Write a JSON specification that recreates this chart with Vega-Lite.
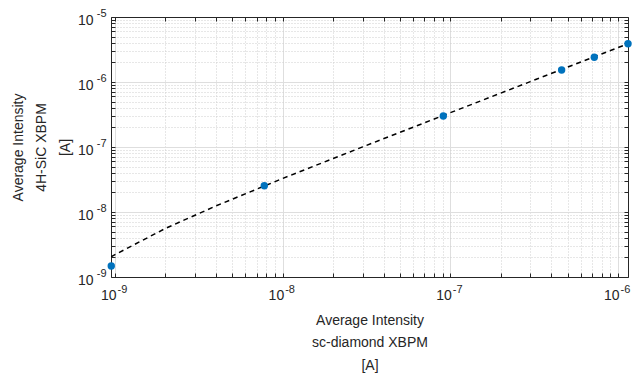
{
  "$schema": "https://vega.github.io/schema/vega-lite/v6.json",
  "autosize": "none",
  "width": 517,
  "height": 260,
  "padding": {"left": 111, "top": 17, "right": 7, "bottom": 99},
  "background": "white",
  "config": {
    "font": "Liberation Sans",
    "view": {"stroke": null},
    "axis": {
      "domainColor": "#262626",
      "domainWidth": 1,
      "tickColor": "#262626",
      "tickWidth": 1,
      "labelColor": "#262626",
      "labelFont": "Liberation Sans",
      "labelFontSize": 14,
      "titleFont": "Liberation Sans",
      "titleFontSize": 14,
      "titleFontWeight": "normal",
      "titleColor": "#262626",
      "labelOverlap": false,
      "labelFlush": false,
      "labelBound": false
    }
  },
  "datasets": {
    "measured": [
      {"sc_diamond": 9.5e-10, "sic": 1.48e-9},
      {"sc_diamond": 7.77e-9, "sic": 2.54e-8},
      {"sc_diamond": 9.08e-8, "sic": 3.0e-7},
      {"sc_diamond": 4.61e-7, "sic": 1.53e-6},
      {"sc_diamond": 7.22e-7, "sic": 2.4e-6},
      {"sc_diamond": 1.147e-6, "sic": 3.88e-6}
    ],
    "fit": [
      {"sc_diamond": 9.465e-10, "sic": 2.05e-9},
      {"sc_diamond": 2e-9, "sic": 5.6e-9},
      {"sc_diamond": 4e-9, "sic": 1.24e-8},
      {"sc_diamond": 1e-8, "sic": 3.28e-8},
      {"sc_diamond": 3e-8, "sic": 1.005e-7},
      {"sc_diamond": 1e-7, "sic": 3.37e-7},
      {"sc_diamond": 3e-7, "sic": 1.014e-6},
      {"sc_diamond": 1.147e-6, "sic": 3.88e-6}
    ]
  },
  "layer": [
    {
      "data": {"name": "fit"},
      "mark": {"type": "line", "color": "black", "strokeWidth": 1.5, "strokeDash": [5, 4], "clip": true},
      "encoding": {
        "x": {
          "field": "sc_diamond", "type": "quantitative",
          "scale": {"type": "log", "domain": [9.465e-10, 1.147e-6], "nice": false},
          "axis": {
            "orient": "bottom",
            "values": [1e-9,2e-9,3e-9,4e-9,5e-9,6e-9,7e-9,8e-9,9e-9,1e-8,2e-8,3e-8,4e-8,5e-8,6e-8,7e-8,8e-8,9e-8,1e-7,2e-7,3e-7,4e-7,5e-7,6e-7,7e-7,8e-7,9e-7,1e-6],
            "labelExpr": "abs(log(datum.value)/LN10 - round(log(datum.value)/LN10)) < 0.01 ? '10' : ''",
            "labelAlign": "right",
            "labelOffset": 1,
            "labelBaseline": "top",
            "tickSize": -4,
            "labelPadding": 15,
            "grid": true,
            "gridColor": {"condition": {"test": "abs(log(datum.value)/LN10 - round(log(datum.value)/LN10)) < 0.01", "value": "#dedede"}, "value": "#cfcfcf"},
            "gridDash": {"condition": {"test": "abs(log(datum.value)/LN10 - round(log(datum.value)/LN10)) < 0.01", "value": []}, "value": [1, 2]},
            "title": ["Average Intensity", "sc-diamond XBPM", "[A]"],
            "titleBaseline": "top",
            "titleAlign": "center",
            "titleX": 258.5,
            "titleY": 36,
            "titleLineHeight": 22.5
          }
        },
        "y": {
          "field": "sic", "type": "quantitative",
          "scale": {"type": "log", "domain": [1e-9, 1e-5], "nice": false},
          "axis": {
            "orient": "left",
            "values": [1e-9,2e-9,3e-9,4e-9,5e-9,6e-9,7e-9,8e-9,9e-9,1e-8,2e-8,3e-8,4e-8,5e-8,6e-8,7e-8,8e-8,9e-8,1e-7,2e-7,3e-7,4e-7,5e-7,6e-7,7e-7,8e-7,9e-7,1e-6,2e-6,3e-6,4e-6,5e-6,6e-6,7e-6,8e-6,9e-6,1e-5],
            "labelExpr": "abs(log(datum.value)/LN10 - round(log(datum.value)/LN10)) < 0.01 ? '10' : ''",
            "labelAlign": "right",
            "labelBaseline": "middle",
            "labelOffset": 3,
            "tickSize": -4,
            "labelPadding": 22,
            "grid": true,
            "gridColor": {"condition": {"test": "abs(log(datum.value)/LN10 - round(log(datum.value)/LN10)) < 0.01", "value": "#dedede"}, "value": "#cfcfcf"},
            "gridDash": {"condition": {"test": "abs(log(datum.value)/LN10 - round(log(datum.value)/LN10)) < 0.01", "value": []}, "value": [1, 2]},
            "title": null
          }
        }
      }
    },
    {
      "data": {"name": "measured"},
      "mark": {"type": "point", "shape": "circle", "filled": true, "color": "#0072BD", "opacity": 1, "size": 55, "clip": false},
      "encoding": {
        "x": {
          "field": "sc_diamond", "type": "quantitative",
          "scale": {"type": "log", "domain": [9.465e-10, 1.147e-6], "nice": false},
          "axis": {
            "orient": "top",
            "values": [1e-9,2e-9,3e-9,4e-9,5e-9,6e-9,7e-9,8e-9,9e-9,1e-8,2e-8,3e-8,4e-8,5e-8,6e-8,7e-8,8e-8,9e-8,1e-7,2e-7,3e-7,4e-7,5e-7,6e-7,7e-7,8e-7,9e-7,1e-6],
            "labels": false,
            "grid": false,
            "tickSize": -4,
            "title": null
          }
        },
        "y": {
          "field": "sic", "type": "quantitative",
          "scale": {"type": "log", "domain": [1e-9, 1e-5], "nice": false},
          "axis": {
            "orient": "right",
            "values": [1e-9,2e-9,3e-9,4e-9,5e-9,6e-9,7e-9,8e-9,9e-9,1e-8,2e-8,3e-8,4e-8,5e-8,6e-8,7e-8,8e-8,9e-8,1e-7,2e-7,3e-7,4e-7,5e-7,6e-7,7e-7,8e-7,9e-7,1e-6,2e-6,3e-6,4e-6,5e-6,6e-6,7e-6,8e-6,9e-6,1e-5],
            "labels": false,
            "grid": false,
            "tickSize": -4,
            "title": null
          }
        }
      }
    },
    {
      "data": {"name": "measured"},
      "mark": {"type": "point", "opacity": 0},
      "encoding": {
        "x": {
          "field": "sc_diamond", "type": "quantitative",
          "scale": {"type": "log", "domain": [9.465e-10, 1.147e-6], "nice": false},
          "axis": {
            "orient": "bottom",
            "values": [1e-9, 1e-8, 1e-7, 1e-6],
            "labelExpr": "'-' + toString(-round(log(datum.value)/LN10))",
            "labelAlign": "left",
            "labelBaseline": "top",
            "labelOffset": 2,
            "labelPadding": 6,
            "labelFontSize": 11,
            "ticks": false,
            "domain": false,
            "grid": false,
            "title": null
          }
        },
        "y": {
          "field": "sic", "type": "quantitative",
          "scale": {"type": "log", "domain": [1e-9, 1e-5], "nice": false},
          "axis": {
            "orient": "left",
            "values": [1e-9, 1e-8, 1e-7, 1e-6, 1e-5],
            "labelExpr": "'-' + toString(-round(log(datum.value)/LN10))",
            "labelAlign": "right",
            "labelBaseline": "middle",
            "labelOffset": -4,
            "labelPadding": 5,
            "labelFontSize": 11,
            "ticks": false,
            "domain": false,
            "grid": false,
            "title": ["Average Intensity", "4H-SiC XBPM", "[A]"],
            "titleAngle": 270,
            "titleBaseline": "bottom",
            "titleAlign": "center",
            "titleX": -86,
            "titleY": 130,
            "titleLineHeight": 23.5
          }
        }
      }
    }
  ],
  "resolve": {"axis": {"x": "independent", "y": "independent"}}
}
